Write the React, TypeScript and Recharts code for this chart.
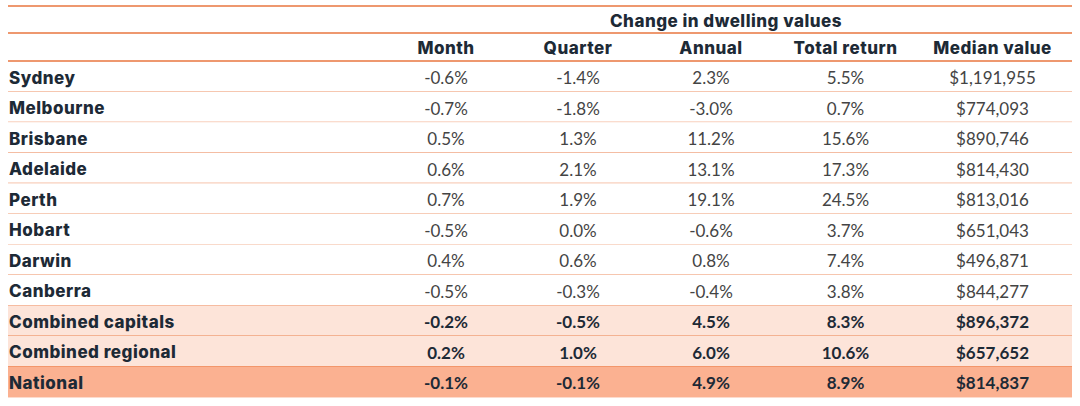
import { Bar, BarChart, LabelList, XAxis, YAxis } from "recharts";

const CITIES = [
  "Sydney",
  "Melbourne",
  "Brisbane",
  "Adelaide",
  "Perth",
  "Hobart",
  "Darwin",
  "Canberra",
  "Combined capitals",
  "Combined regional",
  "National",
];
const MONTH = [-0.6, -0.7, 0.5, 0.6, 0.7, -0.5, 0.4, -0.5, -0.2, 0.2, -0.1];
const QUARTER = [-1.4, -1.8, 1.3, 2.1, 1.9, 0.0, 0.6, -0.3, -0.5, 1.0, -0.1];
const ANNUAL = [2.3, -3.0, 11.2, 13.1, 19.1, -0.6, 0.8, -0.4, 4.5, 6.0, 4.9];
const TOTAL_RETURN = [5.5, 0.7, 15.6, 17.3, 24.5, 3.7, 7.4, 3.8, 8.3, 10.6, 8.9];
const MEDIAN = [1191955, 774093, 890746, 814430, 813016, 651043, 496871, 844277, 896372, 657652, 814837];
const HEADERS = ["Month", "Quarter", "Annual", "Total return", "Median value"];
const TITLE = "Change in dwelling values";

// layout / style
const W = 1080;
const H = 406;
const MARGIN = { top: 6, right: 8, bottom: 9, left: 8 };
const HEAD_H = 55;
const COL_W = [372, 132, 132, 134, 135, 159];
const LINE = "#e9763f";
const INK = "#1d2a36";
const NUM = "#444444";
const HEAD_FONT = "Inter, 'Noto Sans', sans-serif";
const NUM_FONT = "Lato, 'Noto Sans', sans-serif";
const HEAD_STYLE = { fontFamily: HEAD_FONT, fontWeight: 800, fontSize: 17, letterSpacing: 0.5 };
const ROW_FILL: Record<string, string> = {
  "Combined capitals": "#fde4d9",
  "Combined regional": "#fde4d9",
  National: "#fbb191",
};

const pct = (v: number) => `${v.toFixed(1)}%`;
const money = (v: number) => `$${v.toLocaleString("en-US")}`;

const rows = CITIES.map((name, i) => ({
  name,
  t0: name,
  t1: pct(MONTH[i]),
  t2: pct(QUARTER[i]),
  t3: pct(ANNUAL[i]),
  t4: pct(TOTAL_RETURN[i]),
  t5: money(MEDIAN[i]),
}));

const total = COL_W.reduce((a, b) => a + b, 0);
const starts = COL_W.map((_, i) => COL_W.slice(0, i).reduce((a, b) => a + b, 0));
const centers = COL_W.slice(1).map((w, i) => starts[i + 1] + w / 2);

function CellShape(props: any) {
  const { x, y, width, height, payload } = props;
  const last = payload.name === CITIES[CITIES.length - 1];
  return (
    <g>
      <rect x={x} y={y} width={width} height={height} fill={ROW_FILL[payload.name] ?? "#ffffff"} />
      {!last && <line x1={x} x2={x + width} y1={y + height} y2={y + height} stroke={LINE} strokeWidth={1.6} />}
    </g>
  );
}

function cellText(col: number) {
  return (props: any) => {
    const { x, y, width, height, value, index } = props;
    const bold = ROW_FILL[CITIES[index]] !== undefined;
    if (col === 0) {
      return (
        <text x={x + 1} y={y + height / 2 + 1} dominantBaseline="central" fill={INK} style={HEAD_STYLE}>
          {value}
        </text>
      );
    }
    return (
      <text x={x + width / 2} y={y + height / 2 + 1} textAnchor="middle" dominantBaseline="central"
        fill={bold ? INK : NUM}
        style={{ fontFamily: NUM_FONT, fontWeight: bold ? 700 : 400, fontSize: 17 }}>
        {value}
      </text>
    );
  };
}

function HeaderTick(props: any) {
  const { x, index } = props;
  const left = MARGIN.left;
  const right = MARGIN.left + total;
  const top = MARGIN.top;
  const mid = top + 27;
  const bottom = top + HEAD_H;
  const titleX = MARGIN.left + (starts[1] + total) / 2;
  return (
    <g>
      {index === 0 && (
        <g>
          {[top, mid, bottom].map((yy) => (
            <line key={yy} x1={left} x2={right} y1={yy} y2={yy} stroke={LINE} strokeWidth={1.6} />
          ))}
          <text x={titleX} y={(top + mid) / 2 + 1} textAnchor="middle" dominantBaseline="central" fill={INK}
            style={HEAD_STYLE}>
            {TITLE}
          </text>
        </g>
      )}
      <text x={x} y={(mid + bottom) / 2 + 1} textAnchor="middle" dominantBaseline="central" fill={INK}
        style={HEAD_STYLE}>
        {HEADERS[index]}
      </text>
    </g>
  );
}

export default function App() {
  return (
    <div style={{ position: "absolute", left: 0, top: 0, width: W, height: H, background: "#ffffff" }}>
      <BarChart width={W} height={H} data={rows} layout="vertical" margin={MARGIN} barCategoryGap={0}>
        <XAxis
          type="number"
          domain={[0, total]}
          orientation="top"
          ticks={centers}
          interval={0}
          height={HEAD_H}
          axisLine={false}
          tickLine={false}
          tick={<HeaderTick />}
        />
        <YAxis type="category" dataKey="name" hide />
        {COL_W.map((w, k) => (
          <Bar key={k} dataKey={() => w} stackId="t" shape={<CellShape />} isAnimationActive={false}>
            <LabelList dataKey={`t${k}`} content={cellText(k)} />
          </Bar>
        ))}
      </BarChart>
    </div>
  );
}
